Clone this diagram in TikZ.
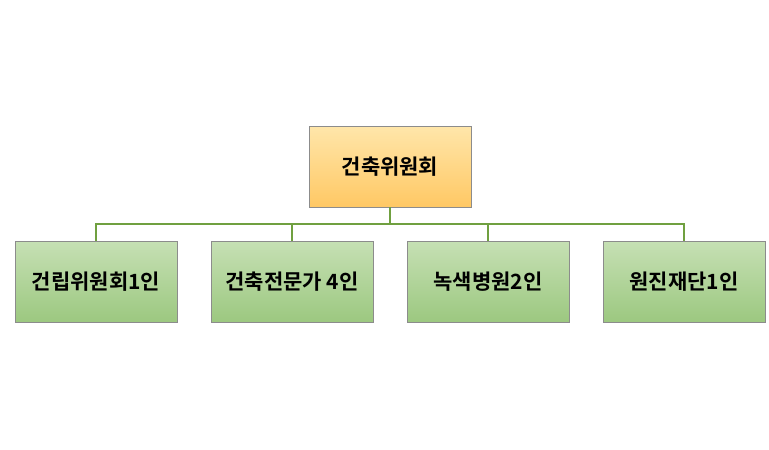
\documentclass[tikz,border=0pt]{standalone}
\usepackage{fontspec}
\setmainfont{Noto Sans CJK KR}[BoldFont={Noto Sans CJK KR Bold}]
\definecolor{gtop}{RGB}{198,224,180}
\definecolor{gbot}{RGB}{156,200,128}
\definecolor{otop}{RGB}{255,230,170}
\definecolor{obot}{RGB}{255,200,100}
\definecolor{lnc}{RGB}{112,160,64}
\begin{document}
\begin{tikzpicture}[x=1pt,y=-1pt,
  topbox/.style={draw=black!45,minimum width=162pt,minimum height=81pt,top color=otop,bottom color=obot,font=\bfseries\fontsize{21}{25}\selectfont},
  kidbox/.style={draw=black!45,minimum width=162pt,minimum height=81pt,top color=gtop,bottom color=gbot,font=\bfseries\fontsize{21}{25}\selectfont},
  conn/.style={draw=lnc,line width=1.3pt}]
\useasboundingbox (0,0) rectangle (769,450);
\fill[white] (0,0) rectangle (769,450);
\node[topbox] (top) at (390,166.5) {건축위원회};
\node[kidbox] (a) at (96,281.5) {건립위원회1인};
\node[kidbox] (b) at (292,281.5) {건축전문가 4인};
\node[kidbox] (c) at (488,281.5) {녹색병원2인};
\node[kidbox] (d) at (684,281.5) {원진재단1인};
\coordinate (m) at (390,224);
\foreach \k in {a,b,c,d}{\draw[conn] (top.south) -- (m) -| (\k.north);}
\end{tikzpicture}
\end{document}
